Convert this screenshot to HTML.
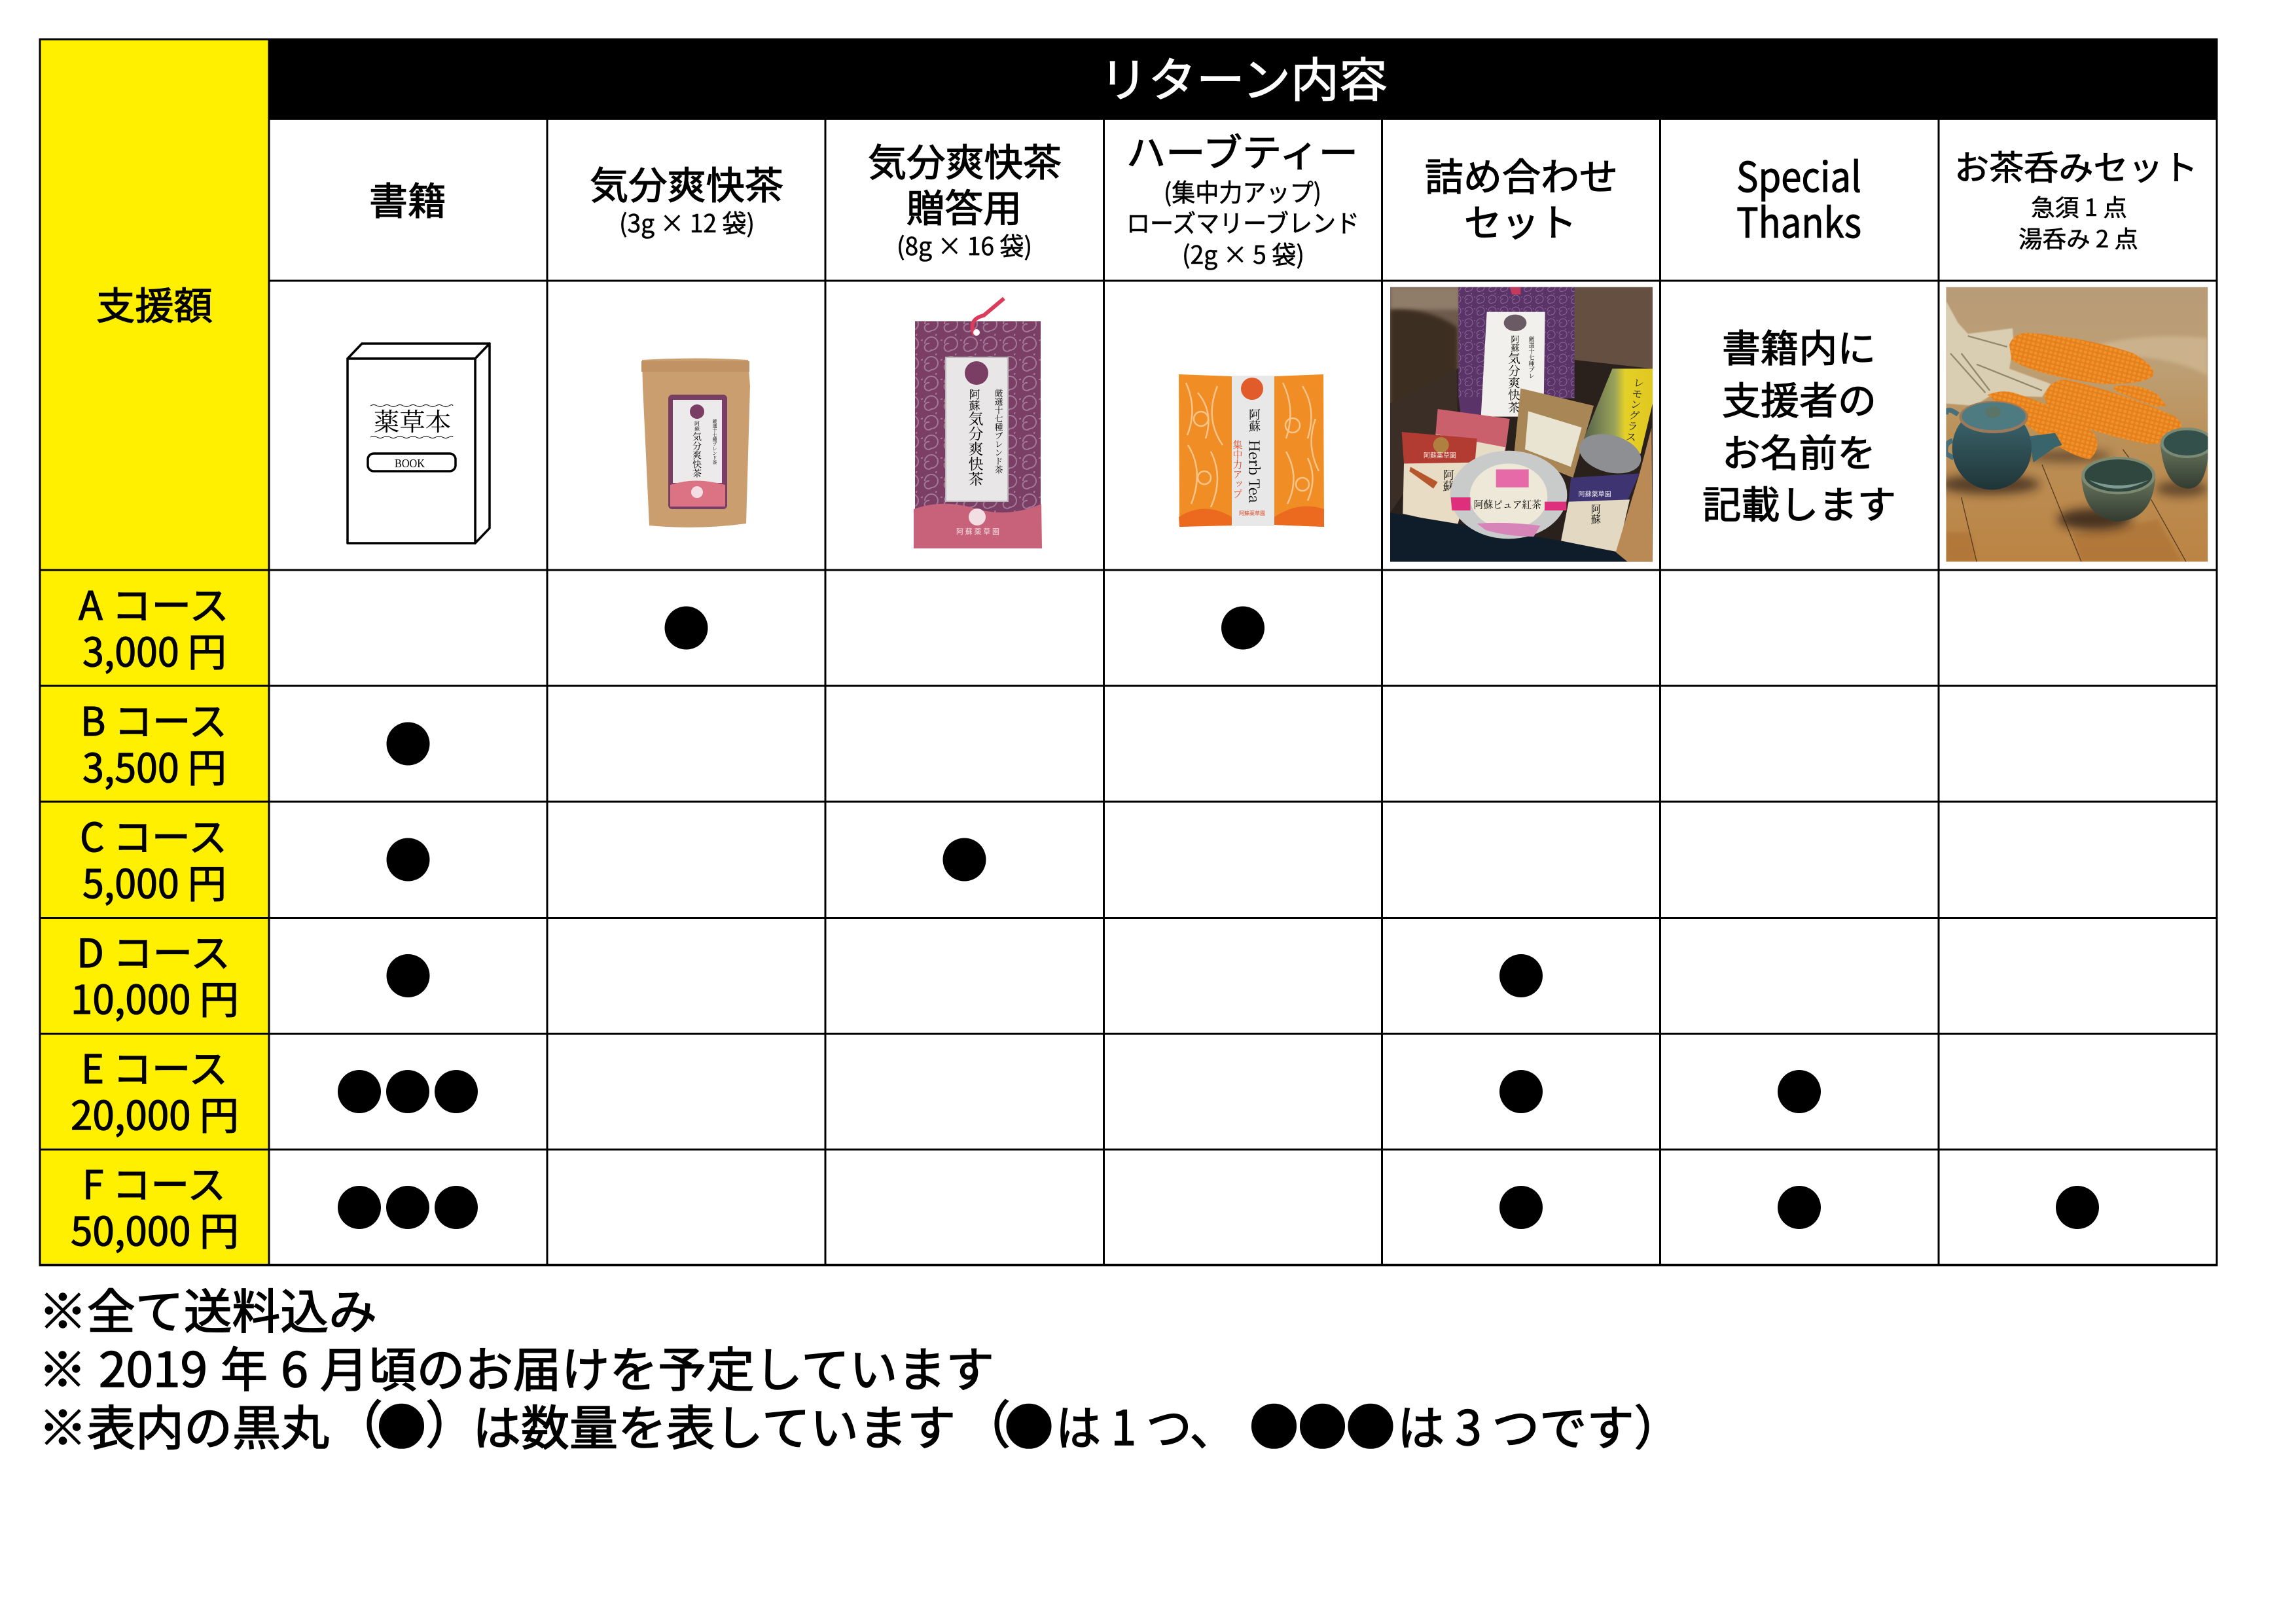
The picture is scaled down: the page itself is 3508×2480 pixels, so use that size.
<!DOCTYPE html>
<html lang="ja"><head><meta charset="utf-8"><title>リターン内容</title>
<style>
html,body{margin:0;padding:0;background:#fff;width:3508px;height:2480px;overflow:hidden}
svg{display:block}
text{font-family:"Noto Sans CJK JP","Liberation Sans",sans-serif;fill:#000}
.a{font-size:58px;stroke:#000;stroke-width:1.200px}
.s{font-size:38px;stroke:#000;stroke-width:.6px}
.n{font-size:73px;stroke:#000;stroke-width:1.600px}
.c{font-size:60px;stroke:#000;stroke-width:1.200px}
.serif{font-family:"Liberation Serif","Noto Serif CJK SC",serif}
.v{writing-mode:vertical-rl;font-family:"Noto Serif CJK SC",serif}
.z{font-family:"Noto Serif CJK SC",serif}
</style></head><body>
<svg xmlns="http://www.w3.org/2000/svg" width="3508" height="2480" viewBox="0 0 3508 2480">
<defs>
<pattern id="sw" width="30" height="30" patternUnits="userSpaceOnUse"><rect width="30" height="30" fill="#7b3f66"/><path d="M3 15a10 10 0 1 1 10 10a6 6 0 1 1 -3 -10M20 3a7 7 0 1 1 7 7" fill="none" stroke="#a37a96" stroke-width="2"/></pattern>
<pattern id="sw2" width="54" height="54" patternUnits="userSpaceOnUse"><rect width="54" height="54" fill="#5a3468"/><path d="M6 27a18 18 0 1 1 18 18a10 10 0 1 1 -4 -18M36 6a12 12 0 1 1 12 12" fill="none" stroke="#8a6a96" stroke-width="3"/></pattern>
<pattern id="kern" width="22" height="20" patternUnits="userSpaceOnUse" patternTransform="rotate(14)"><rect width="22" height="20" fill="#e5801c"/><ellipse cx="11" cy="10" rx="8" ry="7" fill="#f0922a"/></pattern>
<filter id="b1"><feGaussianBlur stdDeviation="2"/></filter>
<filter id="b2" x="-40%" y="-80%" width="180%" height="260%"><feGaussianBlur stdDeviation="22"/></filter>
<filter id="b3" x="-20%" y="-20%" width="140%" height="140%"><feGaussianBlur stdDeviation="9"/></filter>
<linearGradient id="wood" x1="0" y1="0" x2="0" y2="1"><stop offset="0" stop-color="#b89c78"/><stop offset=".3" stop-color="#bd9f74"/><stop offset=".55" stop-color="#bb9058"/><stop offset="1" stop-color="#bb8444"/></linearGradient>
<linearGradient id="pot" x1="0" y1="0" x2="0" y2="1"><stop offset="0" stop-color="#3f6a72"/><stop offset="1" stop-color="#1f3538"/></linearGradient>
<linearGradient id="cup" x1="0" y1="0" x2="0" y2="1"><stop offset="0" stop-color="#6a7660"/><stop offset="1" stop-color="#333c30"/></linearGradient>
<linearGradient id="can" x1="0" y1="0" x2="1" y2="0"><stop offset="0" stop-color="#55614a"/><stop offset=".45" stop-color="#9aa35a"/><stop offset=".6" stop-color="#e5d028"/><stop offset="1" stop-color="#e0c820"/></linearGradient>
<clipPath id="cpA"><rect x="42" y="26" width="1203" height="1259"/></clipPath>
<clipPath id="cpB"><rect x="40" y="26" width="1200" height="1259"/></clipPath>
</defs>
<rect width="3508" height="2480" fill="#fff"/>

<!-- table fills -->
<rect x="60" y="59" width="351" height="1875" fill="#fff000"/>
<rect x="410" y="59" width="2978" height="124" fill="#000"/>

<!-- grid -->
<g stroke="#000" stroke-width="3" fill="none">
<rect x="61" y="60" width="3326" height="1873"/>
<path d="M411 59V1934M836 183V1934M1261 183V1934M1686.500 183V1934M2111.500 183V1934M2536.500 183V1934M2962 183V1934"/>
<path d="M411 429H3387M60 871H3387M60 1048H3387M60 1225H3387M60 1402.500H3387M60 1579.500H3387M60 1756.500H3387"/>
<path d="M60 1933H3388" stroke-width="4"/>
</g>

<!-- headers -->
<text x="147" y="488" class="a" textLength="178" lengthAdjust="spacingAndGlyphs">支援額</text>
<text x="1680" y="148" style="font-size:72px;fill:#fff;stroke:#fff;stroke-width:1.200px" textLength="440" lengthAdjust="spacingAndGlyphs">リターン内容</text>
<text x="564" y="328" class="a" textLength="118" lengthAdjust="spacingAndGlyphs">書籍</text>
<text x="901" y="304" class="a" textLength="296" lengthAdjust="spacingAndGlyphs">気分爽快茶</text>
<text x="946" y="355" class="s" textLength="207" lengthAdjust="spacingAndGlyphs">(3g × 12 袋)</text>
<text x="1326" y="269" class="a" textLength="296" lengthAdjust="spacingAndGlyphs">気分爽快茶</text>
<text x="1385" y="339" class="a" textLength="176" lengthAdjust="spacingAndGlyphs">贈答用</text>
<text x="1370" y="390" class="s" textLength="207" lengthAdjust="spacingAndGlyphs">(8g × 16 袋)</text>
<text x="1721" y="254" class="a" textLength="354" lengthAdjust="spacingAndGlyphs">ハーブティー</text>
<text x="1778" y="308" class="s" textLength="241" lengthAdjust="spacingAndGlyphs">(集中力アップ)</text>
<text x="1721" y="355" class="s" textLength="356" lengthAdjust="spacingAndGlyphs">ローズマリーブレンド</text>
<text x="1806" y="403" class="s" textLength="187" lengthAdjust="spacingAndGlyphs">(2g × 5 袋)</text>
<text x="2177" y="291" class="a" textLength="295" lengthAdjust="spacingAndGlyphs">詰め合わせ</text>
<text x="2237" y="361" class="a" textLength="172" lengthAdjust="spacingAndGlyphs">セット</text>
<text x="2653" y="293" style="font-size:63px;stroke:#000;stroke-width:1px" textLength="191" lengthAdjust="spacingAndGlyphs">Special</text>
<text x="2653" y="363" style="font-size:63px;stroke:#000;stroke-width:1px" textLength="191" lengthAdjust="spacingAndGlyphs">Thanks</text>
<text x="2986" y="275" style="font-size:52px;stroke:#000;stroke-width:1px" textLength="372" lengthAdjust="spacingAndGlyphs">お茶呑みセット</text>
<text x="3103" y="330" style="font-size:36px;stroke:#000;stroke-width:.6px" textLength="147" lengthAdjust="spacingAndGlyphs">急須 1 点</text>
<text x="3084" y="378" style="font-size:36px;stroke:#000;stroke-width:.6px" textLength="183" lengthAdjust="spacingAndGlyphs">湯呑み 2 点</text>
<text x="2631" y="553" class="a" textLength="235" lengthAdjust="spacingAndGlyphs">書籍内に</text>
<text x="2631" y="633" class="a" textLength="236" lengthAdjust="spacingAndGlyphs">支援者の</text>
<text x="2631" y="713" class="a" textLength="235" lengthAdjust="spacingAndGlyphs">お名前を</text>
<text x="2601" y="792" class="a" textLength="296" lengthAdjust="spacingAndGlyphs">記載します</text>

<!-- courses -->
<text x="120" y="947" class="c" textLength="230" lengthAdjust="spacingAndGlyphs">A コース</text>
<text x="126" y="1018" class="c" textLength="220" lengthAdjust="spacingAndGlyphs">3,000 円</text>
<text x="123" y="1124" class="c" textLength="224" lengthAdjust="spacingAndGlyphs">B コース</text>
<text x="126" y="1195" class="c" textLength="220" lengthAdjust="spacingAndGlyphs">3,500 円</text>
<text x="122" y="1301" class="c" textLength="225" lengthAdjust="spacingAndGlyphs">C コース</text>
<text x="126" y="1372" class="c" textLength="220" lengthAdjust="spacingAndGlyphs">5,000 円</text>
<text x="117" y="1478" class="c" textLength="235" lengthAdjust="spacingAndGlyphs">D コース</text>
<text x="108" y="1549" class="c" textLength="257" lengthAdjust="spacingAndGlyphs">10,000 円</text>
<text x="124" y="1655" class="c" textLength="224" lengthAdjust="spacingAndGlyphs">E コース</text>
<text x="108" y="1726" class="c" textLength="257" lengthAdjust="spacingAndGlyphs">20,000 円</text>
<text x="126" y="1832" class="c" textLength="219" lengthAdjust="spacingAndGlyphs">F コース</text>
<text x="108" y="1903" class="c" textLength="257" lengthAdjust="spacingAndGlyphs">50,000 円</text>

<!-- dots -->
<g fill="#000">
<circle cx="1048.500" cy="959.500" r="33"/><circle cx="1899" cy="959.500" r="33"/>
<circle cx="623.500" cy="1136.500" r="33"/>
<circle cx="623.500" cy="1313.500" r="33"/><circle cx="1473.500" cy="1313.500" r="33"/>
<circle cx="623.500" cy="1491" r="33"/><circle cx="2324" cy="1491" r="33"/>
<circle cx="549" cy="1668" r="33"/><circle cx="623" cy="1668" r="33"/><circle cx="697" cy="1668" r="33"/><circle cx="2324" cy="1668" r="33"/><circle cx="2749" cy="1668" r="33"/>
<circle cx="549" cy="1845" r="33"/><circle cx="623" cy="1845" r="33"/><circle cx="697" cy="1845" r="33"/><circle cx="2324" cy="1845" r="33"/><circle cx="2749" cy="1845" r="33"/><circle cx="3174" cy="1845" r="33"/>
</g>

<!-- notes -->
<text x="59" y="2030" class="n" textLength="517" lengthAdjust="spacingAndGlyphs">※全て送料込み</text>
<text x="59" y="2119" class="n" textLength="73" lengthAdjust="spacingAndGlyphs">※</text>
<text x="151" y="2119" class="n" textLength="166" lengthAdjust="spacingAndGlyphs">2019</text>
<text x="337" y="2119" class="n" textLength="72" lengthAdjust="spacingAndGlyphs">年</text>
<text x="429" y="2119" class="n" textLength="42" lengthAdjust="spacingAndGlyphs">6</text>
<text x="489" y="2119" class="n" textLength="1030" lengthAdjust="spacingAndGlyphs">月頃のお届けを予定しています</text>
<text x="59" y="2208" class="n" textLength="444" lengthAdjust="spacingAndGlyphs">※表内の黒丸</text>
<text x="507" y="2205" class="n" style="font-size:78px">（</text>
<text x="613.500" y="2208" class="n" style="font-size:75px" text-anchor="middle">●</text>
<text x="650" y="2205" class="n" style="font-size:78px">）</text>
<text x="722" y="2208" class="n" textLength="738" lengthAdjust="spacingAndGlyphs">は数量を表しています</text>
<text x="1466" y="2205" class="n" style="font-size:78px">（</text>
<text x="1572" y="2208" class="n" style="font-size:75px" text-anchor="middle">●</text>
<text x="1613" y="2208" class="n" textLength="274" lengthAdjust="spacingAndGlyphs">は 1 つ、</text>
<text x="1946.500" y="2208" class="n" style="font-size:75px" text-anchor="middle">●</text>
<text x="2020.500" y="2208" class="n" style="font-size:75px" text-anchor="middle">●</text>
<text x="2094" y="2208" class="n" style="font-size:75px" text-anchor="middle">●</text>
<text x="2135" y="2208" class="n" textLength="434" lengthAdjust="spacingAndGlyphs">は 3 つです）</text>
<rect x="480" y="2215" width="2100" height="30" fill="#fff"/>

<!-- book -->
<g fill="#fff" stroke="#000" stroke-width="3.500" stroke-linejoin="round">
<path d="M531 548L553 525H748L726 548Z"/>
<path d="M726 548L748 525V807L726 830Z"/>
<rect x="531" y="548" width="195" height="282"/>
</g>
<path d="M566 620q5-3 10 0t10 0t10 0t10 0t10 0t10 0t10 0t10 0t10 0t10 0t10 0t10 0t6 0M566 668q5-3 10 0t10 0t10 0t10 0t10 0t10 0t10 0t10 0t10 0t10 0t10 0t10 0t6 0" fill="none" stroke="#000" stroke-width="1"/>
<text x="571" y="658" class="z" style="font-size:38px" textLength="118" lengthAdjust="spacingAndGlyphs">薬草本</text>
<rect x="562" y="693" width="134" height="27" rx="9" fill="#fff" stroke="#000" stroke-width="3.500"/>
<text x="603" y="714" class="serif" style="font-size:18px" textLength="46" lengthAdjust="spacingAndGlyphs">BOOK</text>

<!-- kraft pouch -->
<path d="M981 550Q1062 545 1143 550L1146 590L1140 800Q1066 810 992 803L982 590Z" fill="#cb9e70"/>
<rect x="980" y="552" width="165" height="16" fill="#c09264"/>
<rect x="1021" y="603" width="90" height="175" rx="6" fill="#7a3d63"/>
<rect x="1028" y="611" width="75" height="127" fill="#eceaea"/>
<path d="M1024 741Q1062 728 1108 741V774H1024Z" fill="#dc7384"/>
<circle cx="1065" cy="629" r="11" fill="#7a3d63"/>
<text x="1065" y="660" class="v" style="font-size:14px" fill="#333">気分爽快茶</text>
<text x="1065" y="643" class="v" style="font-size:8px" fill="#333">阿蘇</text>
<text x="1092" y="640" class="v" style="font-size:7px" fill="#555">厳選十七種ブレンド茶</text>
<circle cx="1065" cy="752" r="9" fill="#f3dfe3"/>

<!-- gift bag -->
<rect x="1398" y="491" width="192" height="300" fill="url(#sw)"/>
<path d="M1396 778Q1440 762 1490 777T1591 770L1592 838H1396Z" fill="#c8617a"/>
<path d="M1489 512Q1478 488 1503 482L1534 456" fill="none" stroke="#dc3c5c" stroke-width="6"/>
<circle cx="1492" cy="508" r="5" fill="#fff"/>
<rect x="1445" y="546" width="95" height="220" fill="#e8e6e6" stroke="#bbb" stroke-width="2"/>
<circle cx="1492" cy="570" r="18" fill="#7a3d63"/>
<text x="1489" y="594" class="v" style="font-size:17px" fill="#333">阿蘇</text>
<text x="1491" y="628" class="v" style="font-size:23px" fill="#222">気分爽快茶</text>
<text x="1526" y="594" class="v" style="font-size:13px" fill="#666">厳選十七種ブレンド茶</text>
<circle cx="1493" cy="790" r="13" fill="#f3dfe3"/>
<text x="1461" y="816" style="font-size:11px;fill:#f0dfe0" textLength="66">阿蘇薬草園</text>

<!-- herb tea -->
<path d="M1801 572L1882 575V802L1802 805Z" fill="#f08d24"/>
<path d="M1947 575L2022 572L2023 805L1947 802Z" fill="#f08d24"/>
<path d="M1801 790Q1840 765 1882 790V803L1802 805ZM1947 790Q1985 765 2023 778V805L1947 802Z" fill="#ec6a1f"/>
<g stroke="#f8c48a" stroke-width="2.500" fill="none">
<path d="M1812 585q18 40 2 80M1830 600q25 30 12 70M1860 590q-20 50 8 90M1815 680q25 40 5 90M1850 690q20 40 0 85M1960 585q20 40 5 85M1990 590q22 35 8 80M2010 640q-15 40 5 80M1965 690q22 40 2 80M1998 700q15 30 0 65"/>
<circle cx="1835" cy="640" r="11"/><circle cx="1975" cy="650" r="11"/><circle cx="1840" cy="730" r="10"/><circle cx="1990" cy="740" r="10"/>
</g>
<rect x="1882" y="574" width="65" height="230" fill="#e9e8e8"/>
<circle cx="1913" cy="594" r="17" fill="#e25b2a"/>
<text x="1917" y="624" class="v" style="font-size:18px" fill="#333">阿蘇</text>
<text x="1917" y="672" class="v" style="font-size:22px" fill="#444">Herb Tea</text>
<text x="1891" y="672" class="v" style="font-size:15px;fill:#d94a25">集中力アップ</text>
<text x="1893" y="787" style="font-size:8px;fill:#d94a25">阿蘇薬草園</text>

<!-- gift set photo -->
<g transform="translate(2110 430) scale(.33333)">
<g clip-path="url(#cpA)">
<rect x="42" y="26" width="1203" height="1259" fill="#6d5a4b"/>
<path d="M42 26H360V130H42Z" fill="#8f7c69" filter="url(#b3)"/>
<path d="M42 130Q220 120 350 210V420L42 640Z" fill="#3e2d24" filter="url(#b3)"/>
<path d="M880 26H1245V400H880Z" fill="#65503f" filter="url(#b3)"/>
<path d="M42 560L350 400L890 360L1245 400V1285H42Z" fill="#2a211d"/>
<path d="M42 560L350 400V620L42 1060Z" fill="#3b2e26"/>
<rect x="355" y="26" width="532" height="510" fill="url(#sw2)"/>
<path d="M355 530H640V610H365Z" fill="#5a3468"/>
<path d="M590 26H640V60H600Z" fill="#c23a5c"/>
<path d="M485 140H752L745 620H458Z" fill="#f2f0ec"/>
<ellipse cx="615" cy="190" rx="52" ry="38" fill="#6a5a64"/>
<text x="615" y="245" class="v" style="font-size:40px" fill="#444">阿蘇</text>
<text x="610" y="325" class="v" style="font-size:56px" fill="#333">気分爽快茶</text>
<text x="690" y="250" class="v" style="font-size:28px" fill="#666">厳選十七種ブレ</text>
<path d="M640 490L975 570L880 900L610 790Z" fill="#a98656"/>
<path d="M675 595L920 670L870 850L660 770Z" fill="#e9e3d2"/>
<path d="M1060 400L1245 400V560L1190 790L930 720Z" fill="url(#can)"/>
<ellipse cx="1050" cy="790" rx="145" ry="85" transform="rotate(15 1050 790)" fill="#8d8f92"/>
<text x="1185" y="440" class="v" style="font-size:50px;fill:#222" transform="rotate(8 1185 440)">レモングラス</text>
<path d="M260 585L590 630L570 780L250 700Z" fill="#c9606c"/>
<path d="M250 700L570 760L540 900L300 850Z" fill="#e7dcc6"/>
<path d="M95 690L440 720L430 835L105 835Z" fill="#b23c32"/>
<path d="M105 835L430 830L350 1120L100 1065Z" fill="#e8dcc4"/>
<circle cx="275" cy="750" r="36" fill="#b08040"/>
<text x="195" y="808" style="font-size:30px;fill:#f3e8de">阿蘇薬草園</text>
<path d="M135 850L260 920L240 950L130 870Z" fill="#b5562c"/>
<text x="310" y="860" class="v" style="font-size:52px" fill="#333">阿蘇</text>
<path d="M870 900L1185 880L1130 1005L860 1010Z" fill="#3d3471"/>
<path d="M860 1010L1140 1000L1085 1240L825 1190Z" fill="#e3d9c3"/>
<text x="905" y="985" style="font-size:30px;fill:#eee">阿蘇薬草園</text>
<text x="985" y="1020" class="v" style="font-size:46px" fill="#333">阿蘇</text>
<path d="M1240 670L1245 1285H1090L1075 1245L1185 880Z" fill="#b98a55"/>
<path d="M42 1060L830 1190L1075 1240L1130 1285H42Z" fill="#0f1d2a"/>
<ellipse cx="585" cy="978" rx="268" ry="202" fill="#c8cbca"/>
<ellipse cx="585" cy="985" rx="178" ry="150" fill="#eee8d8"/>
<path d="M320 990H410V1050H325ZM750 1010H850V1050H750Z" fill="#dd2f7c"/>
<rect x="527" y="862" width="150" height="82" fill="#e66aa8"/>
<text x="425" y="1040" class="z" style="font-size:46px" textLength="310" lengthAdjust="spacingAndGlyphs">阿蘇ピュア紅茶</text>
<path d="M440 1110Q580 1100 730 1120L700 1170Q580 1170 480 1140Z" fill="#d784b8"/>
</g>
</g>

<!-- corn / teapot photo -->
<g transform="translate(2960 430) scale(.33333)">
<g clip-path="url(#cpB)">
<rect x="40" y="26" width="1200" height="1259" fill="url(#wood)"/>
<path d="M700 300Q950 230 1240 260V430Q1050 330 720 340Z" fill="#cbb28c" filter="url(#b3)"/>
<path d="M40 1150H150L180 1285H40ZM660 1285L1120 1285L1010 1090Q850 1130 620 1160Z" fill="#a86a2e" opacity=".5" filter="url(#b3)"/>
<path d="M110 990L180 1285M480 840L660 1285M980 1000L1140 1285M850 770L880 810" stroke="#5a3c20" stroke-width="4" fill="none"/>
<ellipse cx="240" cy="930" rx="230" ry="45" fill="#2a1e12" opacity=".7" filter="url(#b2)"/>
<ellipse cx="720" cy="1090" rx="170" ry="50" fill="#2a1e12" opacity=".8" filter="url(#b2)"/>
<ellipse cx="1120" cy="950" rx="120" ry="36" fill="#2a1e12" opacity=".6" filter="url(#b2)"/>
<ellipse cx="600" cy="800" rx="200" ry="30" fill="#2a1e12" opacity=".5" filter="url(#b2)"/>
<path d="M40 90L95 190L140 240L345 215L350 290L330 400L520 470L480 530L250 520L170 570L40 560Z" fill="#d9cdb2" filter="url(#b1)"/>
<path d="M60 330L220 510M140 250L320 300M180 380L480 500M110 330L240 500" stroke="#93886c" stroke-width="7" fill="none"/>
<path d="M810 480Q930 465 1010 520L1050 570L1000 575Q880 530 810 500Z" fill="url(#kern)"/>
<path d="M330 290Q350 235 420 235Q700 260 900 330Q1000 390 990 430Q950 475 750 470Q450 430 340 360Z" fill="url(#kern)"/>
<path d="M230 520Q290 495 350 510Q600 590 720 700Q755 760 700 815Q620 810 440 680Q330 600 230 520Z" fill="url(#kern)"/>
<path d="M490 520Q520 450 590 450Q850 510 1090 620Q1135 660 1110 680Q1050 750 960 745Q650 680 510 600Z" fill="url(#kern)"/>
<path d="M95 610Q40 570 40 610M70 730Q30 740 40 790L75 810" fill="none" stroke="#46707c" stroke-width="22"/>
<path d="M420 710L540 695L572 750L540 760L440 830Z" fill="#3a646c"/>
<ellipse cx="250" cy="765" rx="182" ry="190" fill="url(#pot)"/>
<ellipse cx="258" cy="622" rx="158" ry="74" fill="#9a7a5a"/>
<ellipse cx="258" cy="618" rx="146" ry="64" fill="#4e7a82"/>
<ellipse cx="255" cy="600" rx="36" ry="26" fill="#5a7468"/>
<path d="M660 890Q670 1090 830 1100Q990 1090 1000 890Z" fill="url(#cup)"/>
<ellipse cx="830" cy="890" rx="170" ry="86" fill="#7d8a72"/>
<ellipse cx="830" cy="890" rx="155" ry="74" fill="#2f473f"/>
<path d="M695 910Q820 990 970 910Q830 960 695 910Z" fill="#7f9a90"/>
<path d="M1022 745Q1040 945 1150 950Q1240 950 1245 740Z" fill="url(#cup)"/>
<ellipse cx="1145" cy="740" rx="122" ry="70" fill="#7a8a74"/>
<ellipse cx="1145" cy="740" rx="108" ry="58" fill="#34504a"/>
</g>
</g>
</svg>
</body></html>
